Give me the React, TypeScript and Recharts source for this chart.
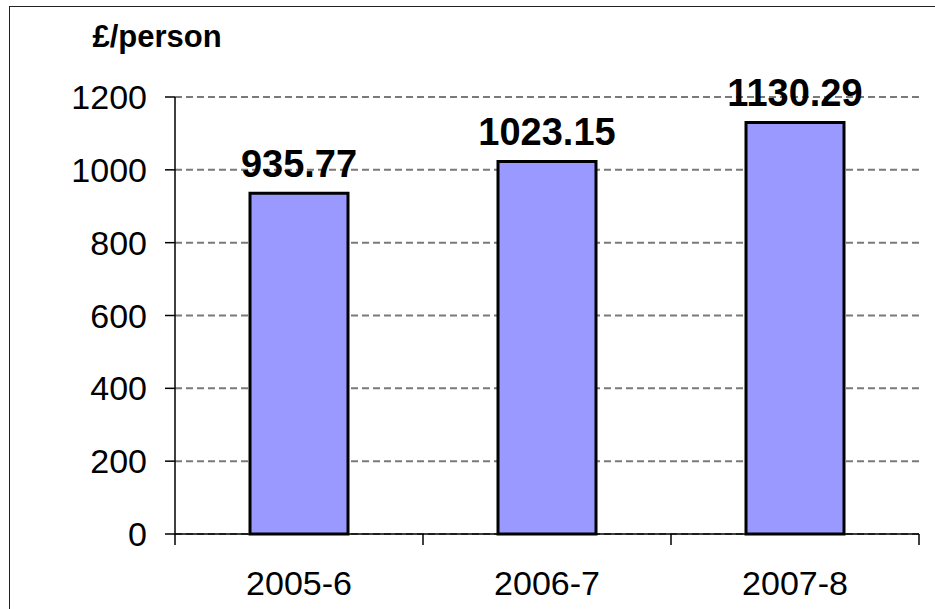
import { BarChart, Bar, XAxis, YAxis, CartesianGrid, LabelList } from 'recharts';

const years = ['2005-6', '2006-7', '2007-8'];
const spend = [935.77, 1023.15, 1130.29];
const yTicks = [0, 200, 400, 600, 800, 1000, 1200];

const data = years.map((year, i) => ({ year, spend: spend[i] }));

const FONT = '"Liberation Sans", Arial, sans-serif';
const X_TICK_MARGIN = 37;

function YearTick(props: any) {
  const { x, y, payload, index } = props;
  const off = payload.offset || 0;
  const axisY = y - X_TICK_MARGIN;
  return (
    <g>
      <line x1={x - off} x2={x - off} y1={axisY} y2={axisY + 11} stroke="#000" strokeWidth={1.5} />
      {index === years.length - 1 && (
        <line x1={x + off} x2={x + off} y1={axisY} y2={axisY + 11} stroke="#000" strokeWidth={1.5} />
      )}
      <text x={x} y={y} dy="0.71em" textAnchor="middle" fill="#000" fontSize={34} fontFamily={FONT}>
        {payload.value}
      </text>
    </g>
  );
}

function UnitLabel(props: any) {
  const vb = props.viewBox;
  return (
    <text x={vb.x + 157} y={vb.y - 50} textAnchor="middle" fill="#000" fontSize={31} fontWeight="bold" fontFamily={FONT}>
      £/person
    </text>
  );
}

export default function App() {
  return (
    <div style={{ position: 'absolute', left: 0, top: 0, width: 935, height: 609, background: '#fff', overflow: 'hidden' }}>
      <div style={{ position: 'absolute', left: 9, top: 6, width: 940, height: 620, borderTop: '1.5px solid #222', borderLeft: '1.5px solid #222' }} />
      <BarChart
        width={935}
        height={609}
        data={data}
        margin={{ top: 97, right: 16, bottom: 0, left: 0 }}
        style={{ position: 'absolute', left: 0, top: 0 }}
      >
        <CartesianGrid vertical={false} stroke="#7a7a7a" strokeWidth={2} strokeDasharray="7 4" />
        <XAxis
          dataKey="year"
          height={75}
          axisLine={{ stroke: '#000', strokeWidth: 1.5 }}
          tickLine={false}
          tickSize={0}
          tickMargin={X_TICK_MARGIN}
          tick={<YearTick />}
          interval={0}
        />
        <YAxis
          width={175}
          domain={[0, 1200]}
          ticks={yTicks}
          interval={0}
          axisLine={{ stroke: '#000', strokeWidth: 1.5 }}
          tickLine={{ stroke: '#000', strokeWidth: 1.5 }}
          tickSize={10}
          tickMargin={18}
          tick={{ fill: '#000', fontSize: 34, fontFamily: FONT }}
          label={<UnitLabel />}
        />
        <Bar dataKey="spend" fill="#9999FF" stroke="#000" strokeWidth={3} barSize={98} isAnimationActive={false}>
          <LabelList
            dataKey="spend"
            position="top"
            offset={16}
            formatter={(v: any) => Number(v).toFixed(2)}
            style={{ fill: '#000', fontSize: 38, fontWeight: 'bold', fontFamily: FONT }}
          />
        </Bar>
      </BarChart>
    </div>
  );
}
